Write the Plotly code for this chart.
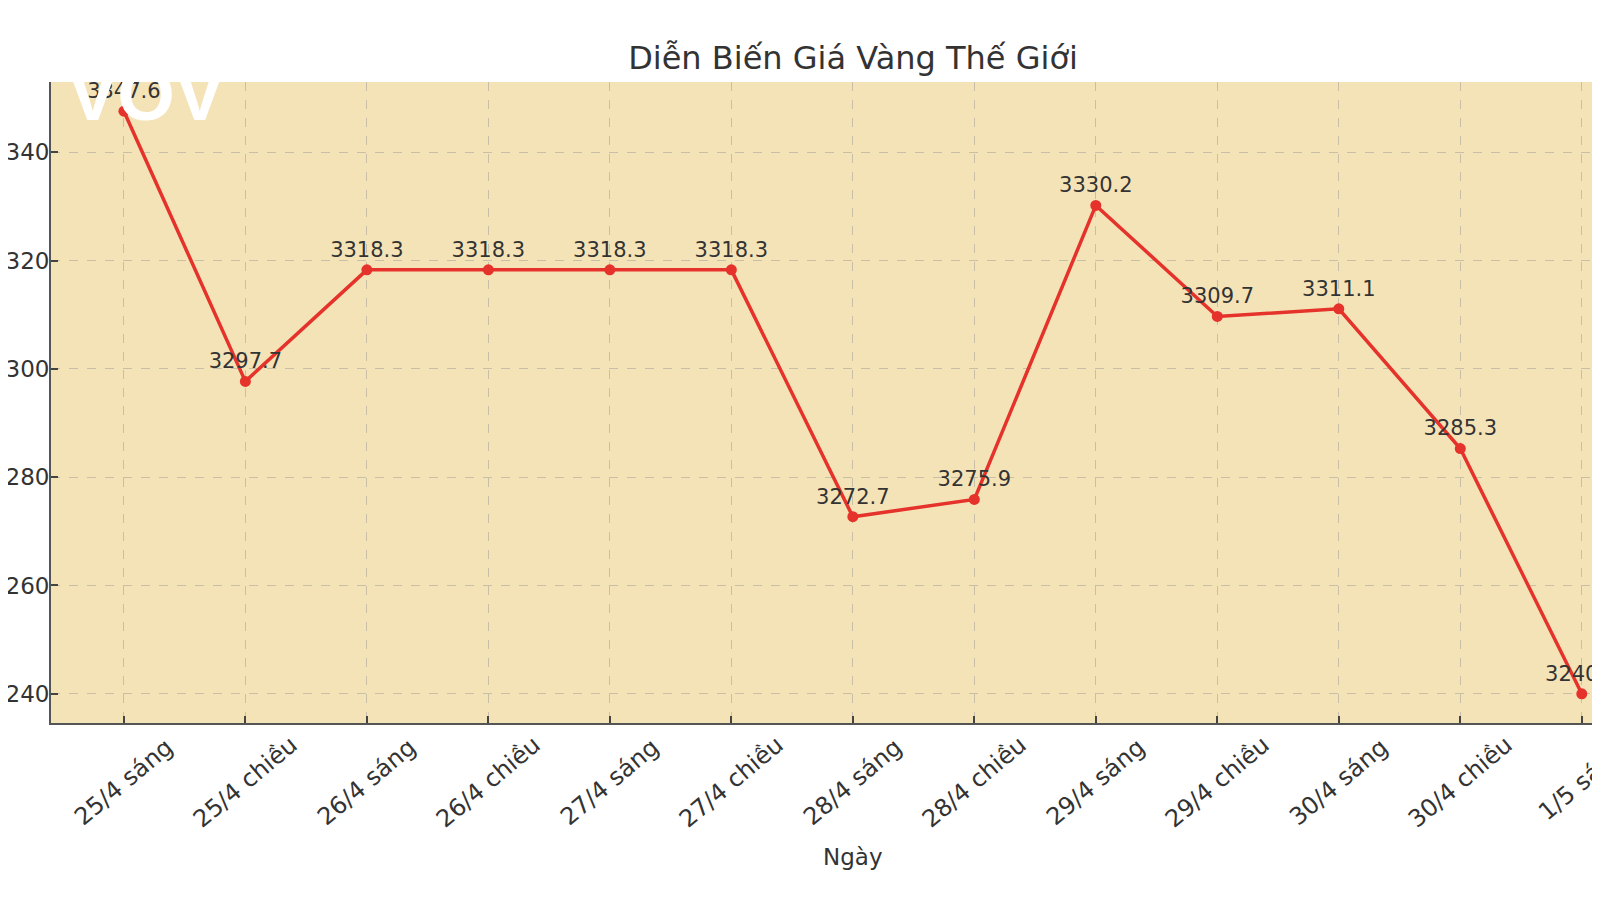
import plotly.graph_objects as go

# Data
days = ["25/4 sáng", "25/4 chiều", "26/4 sáng", "26/4 chiều", "27/4 sáng",
        "27/4 chiều", "28/4 sáng", "28/4 chiều", "29/4 sáng", "29/4 chiều",
        "30/4 sáng", "30/4 chiều", "1/5 sáng"]
prices = [3347.6, 3297.7, 3318.3, 3318.3, 3318.3, 3318.3, 3272.7,
          3275.9, 3330.2, 3309.7, 3311.1, 3285.3, 3240.0]
y_ticks = [3240, 3260, 3280, 3300, 3320, 3340]

TEXT = "#333333"
FONT = "DejaVu Sans"
W, H = 1592, 892          # page body adds an 8px margin
L, T, B = 43, 74, 177     # plot area: left, top, bottom margins
PW, PH = W - L, H - T - B

xs = list(range(len(days)))

fig = go.Figure()
fig.add_trace(go.Scatter(
    x=xs,
    y=prices,
    mode="lines+markers+text",
    line=dict(color="#E5322A", width=3.5),
    marker=dict(color="#E5322A", size=11),
    text=[f"{p:.1f}" for p in prices],
    textposition="top center",
    textfont=dict(family=FONT, size=21, color=TEXT),
    cliponaxis=True,
    showlegend=False,
))

# rotated category labels, centred under each tick (matplotlib style)
for i, d in enumerate(days):
    fig.add_annotation(
        text=d, x=i, y=0, xref="x", yref="paper", yshift=-59,
        xanchor="center", yanchor="middle", textangle=-40, showarrow=False,
        font=dict(family=FONT, size=24, color=TEXT),
    )

# VOV watermark
fig.add_annotation(
    text="<b>VOV</b>", x=(138 - L) / PW, y=1 - (86 - T) / PH,
    xref="paper", yref="paper", xanchor="center", yanchor="middle",
    showarrow=False, font=dict(family="Liberation Sans", size=74, color="white"),
)

# x-axis title
fig.add_annotation(
    text="Ngày", x=(845 - L) / PW, y=-(849 - (H - B)) / PH,
    xref="paper", yref="paper", xanchor="center", yanchor="middle",
    showarrow=False, font=dict(family=FONT, size=23, color=TEXT),
)

fig.update_layout(
    width=W, height=H,
    margin=dict(l=L, r=0, t=T, b=B),
    paper_bgcolor="white",
    plot_bgcolor="#F5E3B8",
    title=dict(text="Diễn Biến Giá Vàng Thế Giới", x=845 / W, xanchor="center",
               y=1 - 50 / H, yanchor="middle", yref="container",
               font=dict(family=FONT, size=32, color=TEXT)),
    font=dict(family=FONT, color=TEXT),
)
fig.update_xaxes(
    range=[-0.6, 12.15], tickmode="array", tickvals=xs,
    showticklabels=False, automargin=False,
    showgrid=True, gridcolor="#C9BFA6", griddash="dash", gridwidth=1,
    showline=True, linecolor="#555555", linewidth=2,
    ticks="inside", ticklen=7, tickcolor="#444444", tickwidth=2,
    zeroline=False,
)
fig.update_yaxes(
    range=[3234.6, 3353.0], tickmode="array", tickvals=y_ticks,
    automargin=False, ticklabelstandoff=-5,
    tickfont=dict(family=FONT, size=23, color=TEXT),
    showgrid=True, gridcolor="#C9BFA6", griddash="dash", gridwidth=1,
    showline=True, linecolor="#555555", linewidth=2,
    ticks="inside", ticklen=7, tickcolor="#444444", tickwidth=2,
    zeroline=False,
)

fig.write_html("out.html")
